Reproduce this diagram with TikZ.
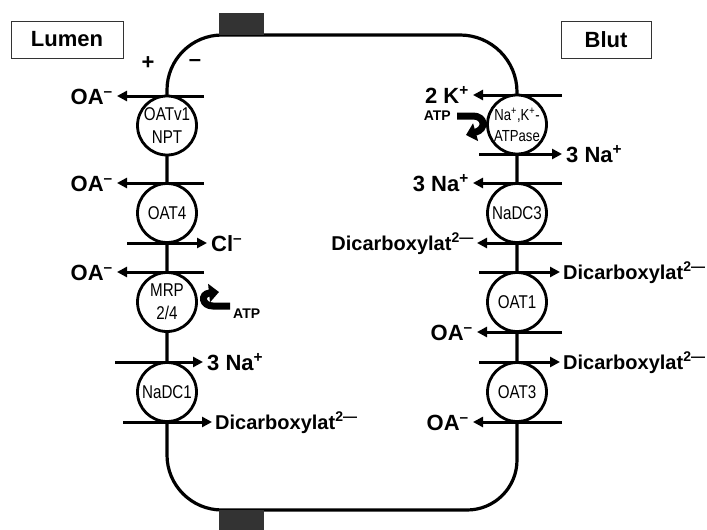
\documentclass[tikz,border=0pt]{standalone}
\usepackage{fontspec}
\setmainfont{Liberation Sans}
\newfontfamily\narrowfont{Liberation Sans}[FakeStretch=0.82]
\usetikzlibrary{arrows.meta}
\begin{document}
\begin{tikzpicture}[x=1pt,y=-1pt,
  wall/.style={line width=3.2pt,line join=round},
  arr/.style={line width=3pt,-{Triangle[length=10pt,width=10pt]}},
  circ/.style={circle,draw,line width=2.8pt,fill=white,minimum size=59pt,inner sep=0pt,
    font=\narrowfont\fontsize{18.5}{23}\selectfont,align=center},
  circs/.style={circ,font=\narrowfont\fontsize{16}{21}\selectfont},
  big/.style={font=\bfseries\fontsize{22}{22}\selectfont,inner xsep=4pt,inner ysep=0pt},
  mid/.style={font=\bfseries\fontsize{20}{20}\selectfont,inner xsep=3pt,inner ysep=0pt},
  atpl/.style={font=\bfseries\fontsize{14}{14}\selectfont,inner sep=0pt},
  bent/.style={line width=7pt,-{Triangle[length=10pt,width=18pt]}},
  region/.style={draw=black!80,line width=1pt,minimum height=37pt,
    font=\bfseries\fontsize{22}{22}\selectfont,inner sep=0pt},
  plate/.style={fill=black!80}
]
\useasboundingbox (0,0) rectangle (707,530);

% cell wall
\draw[wall] (167,96) -- (167,90) arc[start angle=180,end angle=270,radius=55]
  -- (460,35) arc[start angle=270,end angle=360,radius=57]
  -- (517,460) arc[start angle=0,end angle=90,radius=50]
  -- (222,510) arc[start angle=90,end angle=180,radius=55] -- cycle;
\fill[plate] (219,13) rectangle (264,35);
\fill[plate] (219,510) rectangle (264,530);

% region labels
\node[region,minimum width=112pt] (lumen) at (67,39.5) {Lumen};
\node[region,minimum width=90pt] (blut) at (606,39.5) {Blut};
\node[big] (plus) at (148,63) {+};
\node[big] (minus) at (195,63) {–};

% left labels
\node[big,anchor=base east] (oa1) at (117,104) {OA\textsuperscript{–}};
\node[big,anchor=base east] (oa2) at (117,191) {OA\textsuperscript{–}};
\node[big,anchor=base west] (cl) at (207,251) {Cl\textsuperscript{–}};
\node[big,anchor=base east] (oa3) at (117,280) {OA\textsuperscript{–}};
\node[big,anchor=base west] (na1) at (203,370) {3 Na\textsuperscript{+}};
\node[mid,anchor=base west] (dc1) at (212,429) {Dicarboxylat\textsuperscript{2—}};
% right labels
\node[big,anchor=base east] (k2) at (473,103) {2 K\textsuperscript{+}};
\node[big,anchor=base west] (na2) at (562,162) {3 Na\textsuperscript{+}};
\node[big,anchor=base east] (na3) at (473,191) {3 Na\textsuperscript{+}};
\node[mid,anchor=base east] (dc2) at (477,250) {Dicarboxylat\textsuperscript{2—}};
\node[mid,anchor=base west] (dc3) at (560,279) {Dicarboxylat\textsuperscript{2—}};
\node[big,anchor=base east] (oa4) at (477,340) {OA\textsuperscript{–}};
\node[mid,anchor=base west] (dc4) at (560,369) {Dicarboxylat\textsuperscript{2—}};
\node[big,anchor=base east] (oa5) at (473,430) {OA\textsuperscript{–}};

% arrow tails
\coordinate (t1) at (204,96);
\coordinate (t2) at (204,183);
\coordinate (t3) at (127,243);
\coordinate (t4) at (204,272);
\coordinate (t5) at (115,362);
\coordinate (t6) at (123,422);
\coordinate (r1) at (562,95);
\coordinate (r2) at (479,154);
\coordinate (r3) at (562,183);
\coordinate (r4) at (562,243);
\coordinate (r5) at (479,272);
\coordinate (r6) at (562,332);
\coordinate (r7) at (479,362);
\coordinate (r8) at (562,422);

\draw[arr] (t1) -- (t1 -| oa1.east);
\draw[arr] (t2) -- (t2 -| oa2.east);
\draw[arr] (t3) -- (t3 -| cl.west);
\draw[arr] (t4) -- (t4 -| oa3.east);
\draw[arr] (t5) -- (t5 -| na1.west);
\draw[arr] (t6) -- (t6 -| dc1.west);
\draw[arr] (r1) -- (r1 -| k2.east);
\draw[arr] (r2) -- (r2 -| na2.west);
\draw[arr] (r3) -- (r3 -| na3.east);
\draw[arr] (r4) -- (r4 -| dc2.east);
\draw[arr] (r5) -- (r5 -| dc3.west);
\draw[arr] (r6) -- (r6 -| oa4.east);
\draw[arr] (r7) -- (r7 -| dc4.west);
\draw[arr] (r8) -- (r8 -| oa5.east);

% ATP
\node[atpl,anchor=west] (atp1) at (233,314) {ATP};
\node[atpl,anchor=east] (atp2) at (451,116) {ATP};
\coordinate (b1) at (230,306);
\coordinate (b2) at (457,116);
\coordinate (h1) at (219,292);
\coordinate (h2) at (466,135);
\draw[bent] (b1) -- (213,306) .. controls (202,306) and (200,294) .. (h1);
\draw[bent] (b2) -- (473,116) .. controls (485,116) and (487,129) .. (h2);

% transporters
\node[circ] (oatv1) at (167,125.5) {OATv1\\NPT};
\node[circ] (oat4) at (167,213) {OAT4};
\node[circ] (mrp) at (167,302) {MRP\\2/4};
\node[circ] (nadc1) at (167,392) {NaDC1};
\node[circs] (nak) at (517,124.5) {Na\textsuperscript{+},K\textsuperscript{+}-\\ATPase};
\node[circ] (nadc3) at (517,213) {NaDC3};
\node[circ] (oat1) at (517,302) {OAT1};
\node[circ] (oat3) at (517,392) {OAT3};
\end{tikzpicture}
\end{document}
